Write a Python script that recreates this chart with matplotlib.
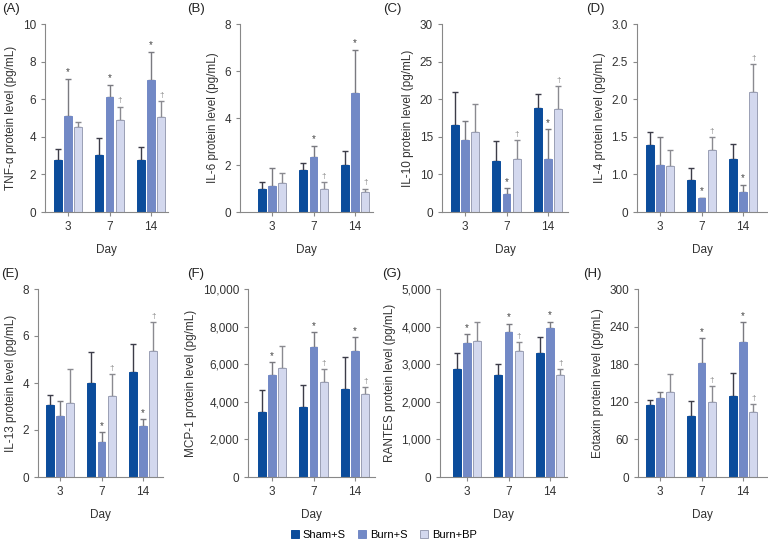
import numpy as np
import matplotlib
matplotlib.use("Agg")
import matplotlib.pyplot as plt
from matplotlib.patches import Patch

plt.rcParams['font.family'] = ['Liberation Sans', 'DejaVu Sans']

days = ['3', '7', '14']
groups = ['Sham+S', 'Burn+S', 'Burn+BP']
colors = ['#0b4c9b', '#7289c6', '#d3d8ee']
err_colors = ['#3c3c48', '#7a7a80', '#8a8a90']

panel_tags = ['(A)', '(B)', '(C)', '(D)', '(E)', '(F)', '(G)', '(H)']
ylabels = ['TNF-α protein level (pg/mL)', 'IL-6 protein level (pg/mL)',
           'IL-10 protein level (pg/mL)', 'IL-4 protein level (pg/mL)',
           'IL-13 protein level (pg/mL)', 'MCP-1 protein level (pg/mL)',
           'RANTES protein level (pg/mL)', 'Eotaxin protein level (pg/mL)']

# means / SD per group, order: Sham+S, Burn+S, Burn+BP
tnf_mean = [[2.78, 3.01, 2.78], [5.08, 6.10, 7.04], [4.50, 4.88, 5.03]]
tnf_sd = [[0.58, 0.90, 0.69], [2.00, 0.68, 1.49], [0.31, 0.73, 0.85]]
il6_mean = [[0.96, 1.77, 2.00], [1.10, 2.33, 5.06], [1.23, 0.96, 0.85]]
il6_sd = [[0.30, 0.32, 0.60], [0.79, 0.49, 1.84], [0.41, 0.30, 0.15]]
il10_mean = [[16.6, 11.8, 18.8], [14.56, 7.4, 12.0], [15.6, 12.1, 18.7]]
il10_sd = [[4.4, 2.7, 1.95], [2.5, 0.75, 4.0], [3.8, 2.5, 3.0]]
il4_mean = [[1.39, 0.93, 1.20], [1.13, 0.68, 0.77], [1.11, 1.32, 2.10]]
il4_sd = [[0.17, 0.15, 0.21], [0.37, 0.01, 0.09], [0.21, 0.18, 0.37]]
il13_mean = [[3.06, 4.00, 4.45], [2.60, 1.50, 2.18], [3.17, 3.43, 5.38]]
il13_sd = [[0.42, 1.34, 1.19], [0.62, 0.41, 0.28], [1.42, 0.97, 1.21]]
mcp1_mean = [[3450, 3700, 4670], [5420, 6890, 6710], [5790, 5040, 4430]]
mcp1_sd = [[1170, 1190, 1700], [690, 810, 730], [1170, 710, 350]]
rantes_mean = [[2860, 2720, 3300], [3570, 3850, 3950], [3630, 3360, 2720]]
rantes_sd = [[440, 280, 420], [220, 230, 180], [490, 240, 140]]
eotaxin_mean = [[115, 98, 128.5], [126.5, 181.5, 215], [135.5, 119.5, 103.5]]
eotaxin_sd = [[8, 23, 37], [9, 40, 32], [28.5, 25, 13]]

# significance: * over Burn+S, dagger over Burn+BP
star_marks = [[1, 1, 1], [0, 1, 1], [0, 1, 1], [0, 1, 1],
              [0, 1, 1], [1, 1, 1], [1, 1, 1], [0, 1, 1]]
dagger_marks = [[0, 1, 1]] * 8

yticks = [[0, 2, 4, 6, 8, 10], [0, 2, 4, 6, 8], [5, 10, 15, 20, 25, 30],
          [0.5, 1.0, 1.5, 2.0, 2.5, 3.0], [0, 2, 4, 6, 8],
          [0, 2000, 4000, 6000, 8000, 10000], [0, 1000, 2000, 3000, 4000, 5000],
          [0, 60, 120, 180, 240, 300]]
ytick_labels = [['0', '2', '4', '6', '8', '10'], ['0', '2', '4', '6', '8'],
                ['0', '10', '15', '20', '25', '30'],
                ['0', '1.0', '1.5', '2.0', '2.5', '3.0'],
                ['0', '2', '4', '6', '8'],
                ['0', '2,000', '4,000', '6,000', '8,000', '10,000'],
                ['0', '1,000', '2,000', '3,000', '4,000', '5,000'],
                ['0', '60', '120', '180', '240', '300']]

means = [tnf_mean, il6_mean, il10_mean, il4_mean, il13_mean, mcp1_mean, rantes_mean, eotaxin_mean]
sds = [tnf_sd, il6_sd, il10_sd, il4_sd, il13_sd, mcp1_sd, rantes_sd, eotaxin_sd]

# layout in pixels: axis left, axis right, first group centre, top, bottom
W, H = 768, 541
boxes = [(45, 168, 68, 24, 212), (240, 373, 272, 24, 212),
         (442, 568, 465, 24, 212), (637, 767, 660, 24, 212),
         (38, 163, 60, 289, 477), (248, 375, 272, 289, 477),
         (440, 567, 467, 289, 477), (638, 767, 660, 289, 477)]
tag_pos = [(2, 9), (187, 9), (383, 9), (586, 9),
           (1, 274), (187, 274), (382, 274), (583, 274)]
spacing = 41.5
offsets = [-0.25, 0.0, 0.25]
bar_w = 0.19

fig = plt.figure(figsize=(W / 100, H / 100), dpi=100)

for i in range(8):
    left, right, c0, top, bottom = boxes[i]
    ax = fig.add_axes([left / W, 1 - bottom / H, (right - left) / W, (bottom - top) / H])
    x = np.arange(len(days))
    for g in range(3):
        xs = x + offsets[g]
        ax.bar(xs, means[i][g], width=bar_w, color=colors[g],
               edgecolor='#9a9fb4' if g == 2 else colors[g], linewidth=0.7, zorder=2)
        ax.errorbar(xs, means[i][g], yerr=[np.zeros(3), sds[i][g]], fmt='none',
                    ecolor=err_colors[g], elinewidth=1.0, capsize=2.2, capthick=1.0, zorder=1)
    for d in range(3):
        if star_marks[i][d]:
            ax.annotate('*', (x[d] + offsets[1], means[i][1][d] + sds[i][1][d]),
                        xytext=(0, 1), textcoords='offset points', ha='center',
                        va='bottom', fontsize=7, color='#444444')
        if dagger_marks[i][d]:
            ax.annotate('†', (x[d] + offsets[2], means[i][2][d] + sds[i][2][d]),
                        xytext=(0, 1.5), textcoords='offset points', ha='center',
                        va='bottom', fontsize=6, color='#888888')
    ax.set_xlim((left - c0) / spacing, (right - c0) / spacing)
    ax.set_ylim(yticks[i][0], yticks[i][-1])
    ax.set_yticks(yticks[i])
    ax.set_yticklabels(ytick_labels[i])
    ax.set_xticks(x)
    ax.set_xticklabels(days)
    ax.set_xlabel('Day', fontsize=8.5, color='#333333', labelpad=8)
    ax.set_ylabel(ylabels[i], fontsize=8.5, color='#333333', labelpad=4)
    ax.tick_params(labelsize=8.5, colors='#333333', length=3, width=0.8, color='#888888')
    for s in ['top', 'right']:
        ax.spines[s].set_visible(False)
    for s in ['left', 'bottom']:
        ax.spines[s].set_color('#888888')
        ax.spines[s].set_linewidth(0.8)
    tx, ty = tag_pos[i]
    fig.text(tx / W, 1 - ty / H, panel_tags[i],
             fontsize=9.5, color='#222222', va='center', ha='left')

handles = [Patch(facecolor=colors[g], edgecolor='#9a9fb4' if g == 2 else colors[g],
                 linewidth=0.7) for g in range(3)]
fig.legend(handles, groups, loc='center', bbox_to_anchor=(0.5, 1 - 535 / H), ncol=3,
           frameon=False, fontsize=8, handlelength=0.7, handleheight=0.7,
           handletextpad=0.4, columnspacing=1.1)

fig.savefig('out.png', dpi=100)
